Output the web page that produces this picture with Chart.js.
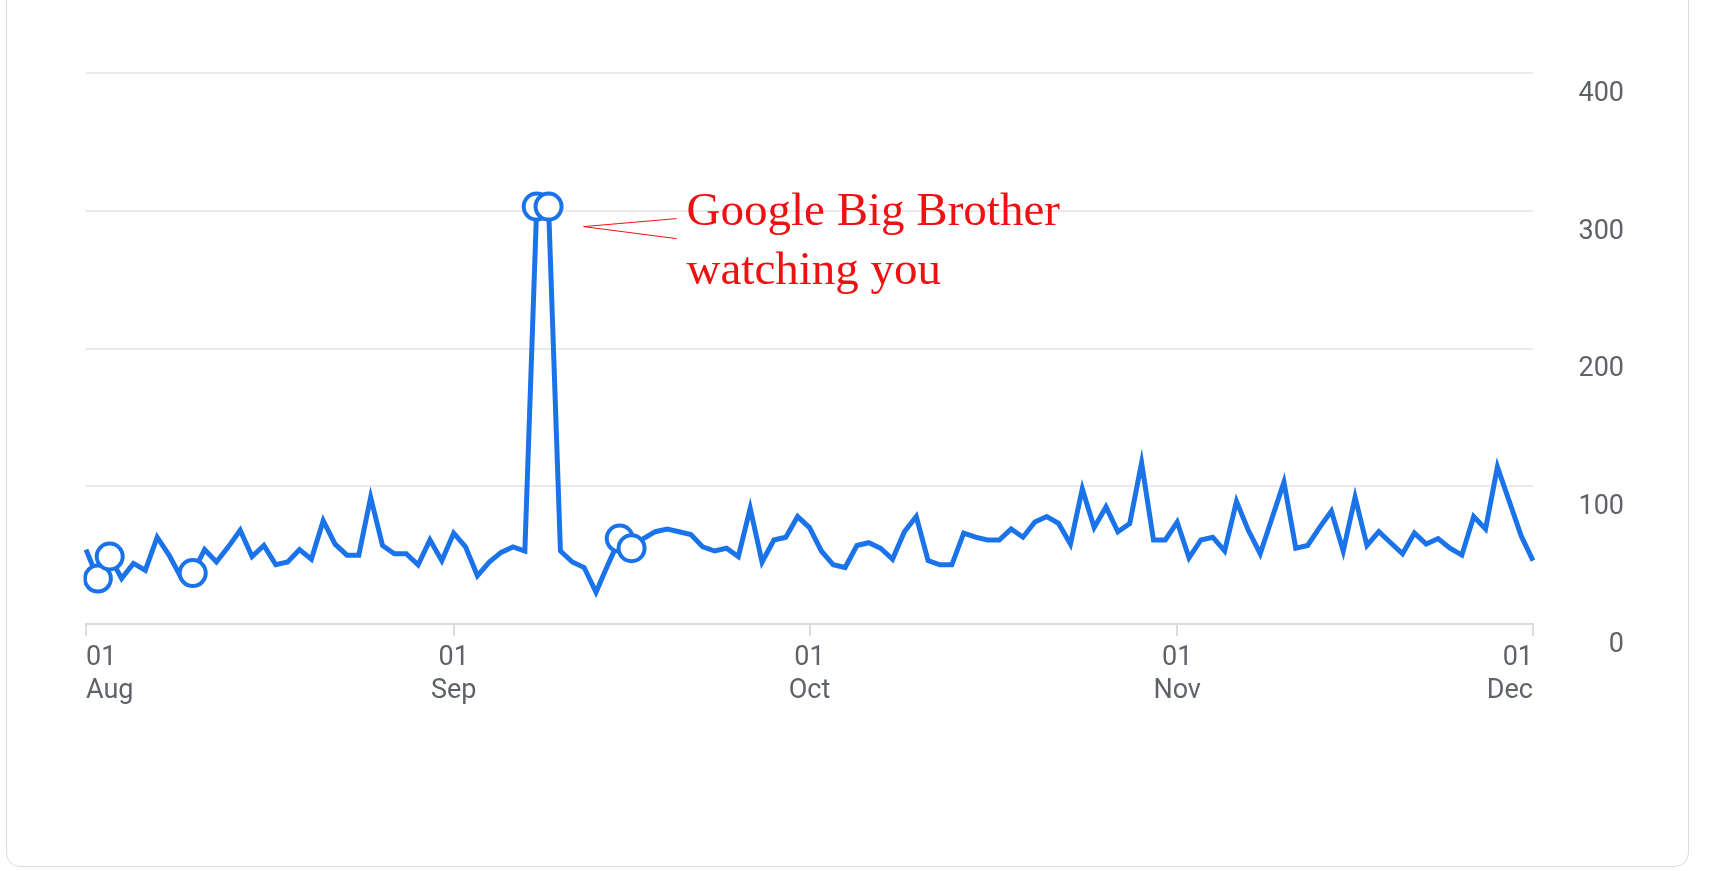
<!DOCTYPE html>
<html><head><meta charset="utf-8">
<script src="https://cdn.jsdelivr.net/npm/chart.js@4"></script>
<style>
html,body{margin:0;padding:0;background:#fff;width:1729px;height:871px;overflow:hidden}
#card{position:absolute;left:6px;top:-20px;width:1683px;height:887px;border:1.5px solid #dadce0;border-radius:14px;box-sizing:border-box}
#wrap{position:absolute;left:0;top:0;width:1729px;height:871px}
</style></head><body>
<div id="card"></div>
<div id="wrap"><canvas id="c"></canvas></div>
<script>
const startDate = [2023, 7, 1]; // Aug 1
const values = [54,33,49,33,44,39,63,50,34,37,54,45,56,68,49,57,43,45,54,47,75,58,50,50,92,57,51,51,43,61,46,66,56,35,45,52,56,53,303,303,53,45,41,23,43,62,55,62,67,69,67,65,56,53,55,49,84,45,61,63,78,70,53,43,41,57,59,55,47,67,78,46,43,43,66,63,61,61,69,63,74,78,73,58,98,70,85,67,73,117,61,61,74,48,61,63,53,89,68,51,77,103,55,57,70,82,53,92,57,67,59,51,66,58,62,55,50,78,69,114,89,64,46];
const markedPoints = [1,2,9,38,39,45,46];
const yTicks = [0,100,200,300,400];
const monthNames = ['Jan','Feb','Mar','Apr','May','Jun','Jul','Aug','Sep','Oct','Nov','Dec'];
const annotationLines = ['Google Big Brother','watching you'];

const labels = [];
const isMonthStart = [];
for (let i = 0; i < values.length; i++) {
  const d = new Date(startDate[0], startDate[1], startDate[2] + i);
  labels.push(d.toISOString().slice(0,10));
  isMonthStart.push(d.getDate() === 1 ? ['01', monthNames[d.getMonth()]] : null);
}

const annot = {
  id:'annot',
  afterDraw(chart){
    const c = chart.ctx, meta = chart.getDatasetMeta(0);
    const p = meta.data[39];
    c.save();
    c.strokeStyle = '#ee1111'; c.lineWidth = 1;
    const x0 = p.x + 35, y0 = p.y + 20, x1 = p.x + 128;
    c.beginPath(); c.moveTo(x0, y0); c.lineTo(x1, y0 - 8); c.moveTo(x0, y0); c.lineTo(x1, y0 + 12); c.stroke();
    c.fillStyle = '#ee1111';
    c.font = '47px "Liberation Serif"';
    c.textBaseline = 'alphabetic';
    annotationLines.forEach((t,i)=>c.fillText(t, x1 + 10, p.y + 18 + i*59));
    c.restore();
  }
};

new Chart(document.getElementById('c'), {
  type:'line',
  data:{labels, datasets:[{
    data: values,
    borderColor:'#1a73e8', borderWidth:5, tension:0,
    pointRadius: ctx => markedPoints.includes(ctx.dataIndex) ? 13 : 0,
    pointHoverRadius: 0,
    pointBackgroundColor:'#fff', pointBorderColor:'#1a73e8', pointBorderWidth:4
  }]},
  options:{
    responsive:true, maintainAspectRatio:false, animation:false,
    layout:{padding:{left:86, top:73, right:105, bottom:167}},
    plugins:{legend:{display:false}, tooltip:{enabled:false}},
    scales:{
      x:{
        offset:false,
        afterFit: s => { s.height = 80; },
        border:{display:true, color:'#dadce0', width:2},
        grid:{drawOnChartArea:false, drawTicks:true, tickLength:12, lineWidth:2,
              color: ctx => (ctx.index !== undefined && isMonthStart[ctx.index]) ? '#dadce0' : 'rgba(0,0,0,0)'},
        ticks:{autoSkip:false, maxRotation:0, align:'inner', color:'#5f6368', padding:5,
               font:{family:'Roboto', size:27, lineHeight:1.25}, callback:(v,i)=>isMonthStart[i] || ''}
      },
      y:{
        position:'right', min:0, max:400,
        afterFit: s => { s.width = 91; },
        afterBuildTicks: s => { s.ticks = yTicks.map(v=>({value:v})); },
        border:{display:false},
        grid:{color:'#e8eaed', lineWidth:2, drawTicks:false},
        ticks:{crossAlign:'far', labelOffset:21, color:'#5f6368', font:{family:'Roboto', size:27}}
      }
    }
  },
  plugins:[annot]
});
</script>
</body></html>
